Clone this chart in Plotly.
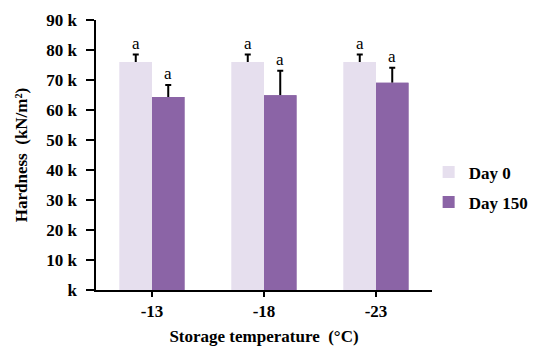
import plotly.graph_objects as go

categories = ["-13", "-18", "-23"]
day0 = [76000, 76000, 76000]
day0_err = [2500, 2500, 2500]
day150 = [64300, 64900, 69100]
day150_err = [4000, 8200, 5000]
letters0 = ["a", "a", "a"]
letters150 = ["a", "a", "a"]
yticks = [0, 10000, 20000, 30000, 40000, 50000, 60000, 70000, 80000, 90000]
yticklabels = ["k", "10 k", "20 k", "30 k", "40 k", "50 k", "60 k", "70 k", "80 k", "90 k"]

FONT = "Times New Roman, Liberation Serif, serif"
C0 = "#E6DFEE"
C150 = "#8B64A6"

fig = go.Figure()
series = [("Day 0", day0, day0_err, C0, "g0"), ("Day 150", day150, day150_err, C150, "g1")]
for name, vals, errs, col, grp in series:
    # bar with error stem (no caps)
    fig.add_trace(go.Bar(
        name=name, x=categories, y=vals, offsetgroup=grp, legendgroup=grp,
        marker=dict(color=col, line=dict(width=0)),
        error_y=dict(type="data", array=errs, symmetric=False, arrayminus=[0] * len(errs),
                     color="black", thickness=2, width=0),
    ))
    # overlay identical bar carrying only the top cap
    fig.add_trace(go.Bar(
        name=name, x=categories, y=vals, offsetgroup=grp, legendgroup=grp,
        showlegend=False, hoverinfo="skip",
        marker=dict(color=col, line=dict(width=0)),
        error_y=dict(type="data", array=errs, symmetric=False, arrayminus=[-e for e in errs],
                     color="black", thickness=2, width=3),
    ))

# invisible helper trace so the tick-mark axis (y2) is drawn
fig.add_trace(go.Scatter(x=categories, y=day0, yaxis="y2", mode="markers",
                         marker=dict(opacity=0), showlegend=False, hoverinfo="skip"))

annotations = []
for i, (v, e, t) in enumerate(zip(day0, day0_err, letters0)):
    annotations.append(dict(x=i, y=v + e, text=t, xref="x", yref="y", showarrow=False,
                            xshift=-16, yanchor="bottom", yshift=0,
                            font=dict(family=FONT, size=17, color="black")))
for i, (v, e, t) in enumerate(zip(day150, day150_err, letters150)):
    annotations.append(dict(x=i, y=v + e, text=t, xref="x", yref="y", showarrow=False,
                            xshift=16, yanchor="bottom", yshift=0,
                            font=dict(family=FONT, size=17, color="black")))

fig.update_layout(
    width=542, height=353,
    margin=dict(l=88, r=118, t=12, b=71, autoexpand=False),
    plot_bgcolor="white", paper_bgcolor="white",
    barmode="group", bargap=0.42, bargroupgap=0,
    font=dict(family=FONT, size=17, color="black"),
    annotations=annotations,
    legend=dict(x=0.99, y=0.38, xanchor="left", yanchor="middle",
                font=dict(family=FONT, size=17, color="black", weight="bold"),
                itemwidth=30, tracegroupgap=5, traceorder="grouped"),
    showlegend=True,
)
fig.update_xaxes(
    type="category", range=[-0.5, 2.5], automargin=False,
    showline=True, linecolor="black", linewidth=2,
    ticks="outside", ticklen=5, tickwidth=2, tickcolor="black",
    tickfont=dict(family=FONT, size=17, color="black", weight="bold"),
    title=dict(text="Storage temperature  (°C)", standoff=10,
               font=dict(family=FONT, size=17, color="black", weight="bold")),
)
fig.update_layout(
    yaxis=dict(
        range=[0, 90000], tickvals=yticks, ticktext=yticklabels, automargin=False,
        showline=False, showgrid=False, zeroline=False,
        ticks="", ticklabelstandoff=18,
        tickfont=dict(family=FONT, size=17, color="black", weight="bold"),
        title=dict(text="Hardness  (kN/m²)", standoff=14,
                   font=dict(family=FONT, size=17, color="black", weight="bold")),
    ),
    yaxis2=dict(
        overlaying="y", side="left", range=[0, 90000], tickvals=yticks,
        showticklabels=False, automargin=False,
        showline=True, linecolor="black", linewidth=2, showgrid=False, zeroline=False,
        ticks="outside", ticklen=8, tickwidth=2, tickcolor="black",
    ),
)

fig.write_html("out.html")
